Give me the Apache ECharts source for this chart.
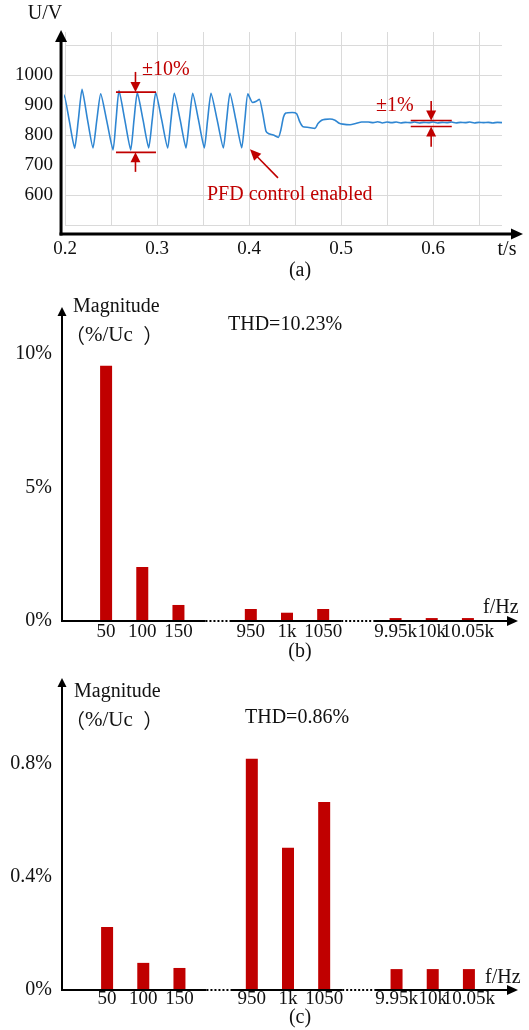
<!DOCTYPE html>
<html><head><meta charset="utf-8">
<script src="https://cdn.jsdelivr.net/npm/echarts@6/dist/echarts.min.js"></script>
<style>html,body{margin:0;padding:0;background:#fff}#c{width:529px;height:1030px}</style>
</head><body><div id="c"></div>
<script>
// ---------- data ----------
// (a) DC-link voltage waveform: time (s) and voltage (V)
const waveT = [0.1958,0.1990,0.2045,0.2105,0.2145,0.2185,0.2245,0.2304,0.2346,0.2388,
  0.2455,0.2522,0.2555,0.2587,0.2650,0.2714,0.2750,0.2786,0.2848,0.2910,
  0.2948,0.2986,0.3051,0.3116,0.3152,0.3188,0.3252,0.3315,0.3352,0.3388,
  0.3451,0.3514,0.3550,0.3587,0.3654,0.3721,0.3757,0.3793,0.3857,0.3921,
  0.3955,0.3988,0.4040,0.4080,0.4112,0.4150,0.4185,0.4215,0.4264,0.4319,
  0.4345,0.4375,0.4400,0.4470,0.4518,0.4550,0.4584,0.4650,0.4717,0.4750,
  0.4790,0.4826,0.4880,0.4935,0.4975,0.5020,0.5098,0.5160,0.5225,0.5297,
  0.535,0.540,0.545,0.550,0.555,0.560,0.565,0.570,0.575,0.580,
  0.585,0.590,0.595,0.600,0.605,0.610,0.615,0.620,0.625,0.630,
  0.635,0.640,0.645,0.650,0.655,0.660,0.665,0.670,0.675];
const waveU = [875,933,850,756,850,952,850,757,850,937,
  845,750,850,948,850,750,850,941,850,757,
  850,941,850,757,850,939,850,757,850,939,
  850,757,850,939,850,757,850,939,850,757,
  850,937,908,912,919,870,812,804,800,792,
  815,860,873,875,871,845,828,825,822,838,
  849,852,853,849,840,836,834,838,843,843,
  841,844,840,843,841,843,840,842,841,843,
  840,842,841,843,840,842,841,843,840,842,
  841,843,840,842,841,842,840,842,841];
// (b),(c) harmonic spectra
const harmonicCats = ['50','100','150','','950','1k','1050','','9.95k','10k','10.05k'];
const magB = [9.55, 2.02, 0.60, null, 0.45, 0.31, 0.45, null, 0.11, 0.11, 0.11];
const magC = [0.223, 0.096, 0.078, null, 0.818, 0.503, 0.665, null, 0.074, 0.074, 0.074];
// tick labels
const uTicks = [600, 700, 800, 900, 1000];
const tTicks = [0.2, 0.3, 0.4, 0.5, 0.6];
const magBTicks = [0, 5, 10];
const magCTicks = [0, 0.4, 0.8];
const thdB = 'THD=10.23%';
const thdC = 'THD=0.86%';

// ---------- chart ----------
const FONT = '"Liberation Serif","Times New Roman","Noto Sans CJK SC",serif';
const CJK = '"Noto Sans CJK SC"';
const RED = '#c00000';
const INK = '#111';
const near = (a, b) => Math.abs(a - b) < 1e-6;
const inTicks = (ticks, v) => ticks.some(t => near(t, v));
const lbl = (extra) => Object.assign({color: INK, fontSize: 19, fontFamily: FONT}, extra);

const chart = echarts.init(document.getElementById('c'), null, {renderer: 'canvas', width: 529, height: 1030});

const option = {
  animation: false,
  backgroundColor: '#fff',
  grid: [
    {left: 65, right: 27, top: 32, bottom: 805, outerBoundsMode: 'none'},
    {left: 88, right: 43, top: 311, bottom: 409, outerBoundsMode: 'none'},
    {left: 89, right: 42, top: 682, bottom: 40, outerBoundsMode: 'none'}
  ],
  xAxis: [
    {gridIndex: 0, type: 'value', min: 0.2, max: 0.675, interval: 0.05,
     axisLine: {show: false}, axisTick: {show: false},
     splitLine: {show: true, showMaxLine: false, lineStyle: {color: '#dadada', width: 1}},
     axisLabel: lbl({margin: 15, showMaxLabel: false,
       formatter: v => inTicks(tTicks, v) ? v.toFixed(1) : ''})},
    {gridIndex: 1, type: 'category', data: harmonicCats,
     axisLine: {show: false}, axisTick: {show: false}, splitLine: {show: false},
     axisLabel: lbl({interval: 0, margin: 2})},
    {gridIndex: 2, type: 'category', data: harmonicCats,
     axisLine: {show: false}, axisTick: {show: false}, splitLine: {show: false},
     axisLabel: lbl({interval: 0, margin: 0})}
  ],
  yAxis: [
    {gridIndex: 0, type: 'value', min: 500, max: 1143, interval: 100, offset: 4,
     axisLine: {show: false}, axisTick: {show: false},
     splitLine: {show: true, showMaxLine: false, lineStyle: {color: '#dadada', width: 1}},
     axisLabel: lbl({margin: 8, showMaxLabel: false,
       formatter: v => inTicks(uTicks, v) ? String(v) : ''})},
    {gridIndex: 1, type: 'value', min: 0, max: 11.6, interval: 5, offset: 26,
     axisLine: {show: false}, axisTick: {show: false}, splitLine: {show: false},
     axisLabel: lbl({fontSize: 20, margin: 10, showMaxLabel: false,
       formatter: v => inTicks(magBTicks, v) ? Math.round(v) + '%' : ''})},
    {gridIndex: 2, type: 'value', min: 0, max: 1.09, interval: 0.4, offset: 27,
     axisLine: {show: false}, axisTick: {show: false}, splitLine: {show: false},
     axisLabel: lbl({fontSize: 20, margin: 10, showMaxLabel: false,
       formatter: v => inTicks(magCTicks, v) ? (Math.round(v * 10) / 10) + '%' : ''})}
  ],
  series: [
    {type: 'line', xAxisIndex: 0, yAxisIndex: 0, clip: false,
     data: waveT.map((t, i) => [t, waveU[i]]),
     showSymbol: false, smooth: 0.2,
     lineStyle: {color: '#2f86d2', width: 1.6}},
    {type: 'bar', xAxisIndex: 1, yAxisIndex: 1, data: magB, barWidth: 12,
     itemStyle: {color: RED}},
    {type: 'bar', xAxisIndex: 2, yAxisIndex: 2, data: magC, barWidth: 12,
     itemStyle: {color: RED}}
  ]
};
chart.setOption(option);

// ---------- decorations (axes with arrows, annotations, texts) ----------
const P = (gi, x, y) => chart.convertToPixel({gridIndex: gi}, [x, y]);

function arrowEls(x1, y1, x2, y2, len, half, color, lw) {
  const dx = x2 - x1, dy = y2 - y1, L = Math.hypot(dx, dy), ux = dx / L, uy = dy / L;
  const bx = x2 - ux * len, by = y2 - uy * len;
  return [
    {type: 'line', z: 100, silent: true,
     shape: {x1: x1, y1: y1, x2: bx + ux, y2: by + uy},
     style: {stroke: color, lineWidth: lw}},
    {type: 'polygon', z: 100, silent: true,
     shape: {points: [[x2, y2], [bx - uy * half, by + ux * half], [bx + uy * half, by - ux * half]]},
     style: {fill: color}}
  ];
}
function seg(x1, y1, x2, y2, color, lw, dash) {
  return {type: 'line', z: 100, silent: true, shape: {x1, y1, x2, y2},
          style: {stroke: color, lineWidth: lw, lineDash: dash || null}};
}
function txt(text, x, y, opts) {
  opts = opts || {};
  const font = (opts.size || 20) + 'px ' + FONT;
  return {type: 'text', z: 101, silent: true, x: x, y: y,
          style: {text: text, font: font, fill: opts.color || INK,
                  align: opts.align || 'left', verticalAlign: 'middle',
                  rich: {p: {font: (opts.size || 20) + 'px ' + CJK, fill: opts.color || INK},
                         w: {font: '21px ' + FONT, fill: opts.color || INK}}}};
}

const g = [];
// (a) axes
const aOrigin = P(0, 0.1957, 470);
g.push(...arrowEls(aOrigin[0], aOrigin[1] + 1.5, aOrigin[0], 30, 12, 6, '#000', 3));
g.push(...arrowEls(aOrigin[0] - 1.5, aOrigin[1], 523, aOrigin[1], 12, 5.5, '#000', 3));
// (a) annotations
{
  const up1 = P(0, 0.2554, 943), up2 = P(0, 0.2989, 943);
  const lo1 = P(0, 0.2554, 742), lo2 = P(0, 0.2989, 742);
  const ax = P(0, 0.2766, 0)[0];
  g.push(seg(up1[0], up1[1], up2[0], up2[1], RED, 1.8));
  g.push(seg(lo1[0], lo1[1], lo2[0], lo2[1], RED, 1.8));
  g.push(...arrowEls(ax, P(0, 0, 1010)[1], ax, up1[1], 10, 5, RED, 1.6));
  g.push(...arrowEls(ax, P(0, 0, 677)[1], ax, lo1[1], 10, 5, RED, 1.6));

  const r1 = P(0, 0.5758, 848), r2 = P(0, 0.6204, 848);
  const s1 = P(0, 0.5758, 828), s2 = P(0, 0.6204, 828);
  const bx = P(0, 0.598, 0)[0];
  g.push(seg(r1[0], r1[1], r2[0], r2[1], RED, 1.6));
  g.push(seg(s1[0], s1[1], s2[0], s2[1], RED, 1.6));
  g.push(...arrowEls(bx, P(0, 0, 913)[1], bx, r1[1], 10, 5, RED, 1.6));
  g.push(...arrowEls(bx, P(0, 0, 761)[1], bx, s1[1], 10, 5, RED, 1.6));

  const pt = P(0, 0.4011, 752), pf = P(0, 0.4315, 657);
  g.push(...arrowEls(pf[0], pf[1], pt[0], pt[1], 11, 5, RED, 1.6));
}
g.push(txt('U/V', 45, 14, {align: 'center'}));
g.push(txt('t/s', 507, 250, {align: 'center'}));
g.push(txt('(a)', 300, 271, {align: 'center'}));
g.push(txt('±10%', 142, 70, {color: RED}));
g.push(txt('PFD control enabled', 207, 195, {color: RED}));
g.push(txt('±1%', 376, 106, {color: RED}));

// (b),(c) axes with broken x-axis
function spectrumAxes(gi, yAxisX, yTip) {
  const base = P(gi, 0, 0)[1];
  const c2 = P(gi, 2, 0)[0], c4 = P(gi, 4, 0)[0], c6 = P(gi, 6, 0)[0], c8 = P(gi, 8, 0)[0];
  const d1a = c2 + 27, d1b = c4 - 21, d2a = c6 + 18, d2b = c8 - 22;
  g.push(...arrowEls(yAxisX, base + 1, yAxisX, yTip, 9, 4.5, '#000', 2));
  g.push(seg(yAxisX - 1, base, d1a, base, '#000', 2));
  g.push(seg(d1a, base, d1b, base, '#000', 2, [2, 2]));
  g.push(seg(d1b, base, d2a, base, '#000', 2));
  g.push(seg(d2a, base, d2b, base, '#000', 2, [2, 2]));
  g.push(...arrowEls(d2b, base, 518, base, 11, 5, '#000', 2));
}
spectrumAxes(1, 62, 307);
spectrumAxes(2, 62, 678);

const unitText = '{p|（}{w|%/Uc  }{p|）}';
g.push(txt('Magnitude', 73, 307));
g.push(txt(unitText, 65, 335));
g.push(txt(thdB, 228, 325));
g.push(txt('f/Hz', 483, 608));
g.push(txt('(b)', 300, 652, {align: 'center'}));

g.push(txt('Magnitude', 74, 692));
g.push(txt(unitText, 65, 720));
g.push(txt(thdC, 245, 718));
g.push(txt('f/Hz', 485, 978));
g.push(txt('(c)', 300, 1018, {align: 'center'}));

chart.setOption({graphic: {elements: g}});
</script>
</body></html>
